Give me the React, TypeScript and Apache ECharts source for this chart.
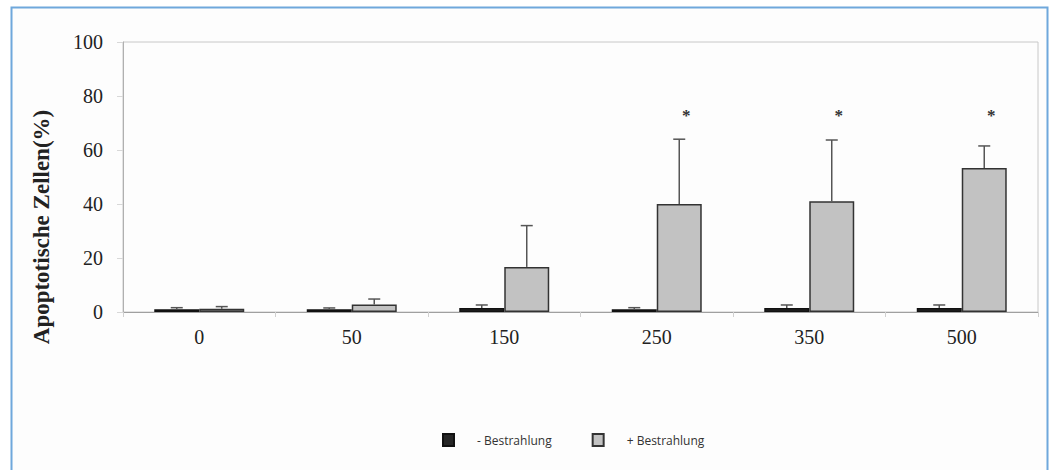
import React, { useEffect, useRef } from "react";
import * as echarts from "echarts";

// Dose groups (x axis)
const doses = ["0", "50", "150", "250", "350", "500"];
// Apoptotic cells (%) without irradiation: mean and upper error
const meanMinus = [1.0, 1.0, 1.5, 1.0, 1.5, 1.5];
const errTopMinus = [1.6, 1.5, 2.6, 1.6, 2.6, 2.6];
// Apoptotic cells (%) with irradiation: mean and upper error
const meanPlus = [1.2, 2.8, 16.7, 40.0, 41.0, 53.3];
const errTopPlus = [2.0, 4.8, 32.0, 64.0, 63.7, 61.5];
// Significant groups (irradiated)
const significant = [false, false, false, true, true, true];

const yTicks = [0, 20, 40, 60, 80, 100];

const SERIF = "'Liberation Serif', 'Times New Roman', serif";
const CAT_GAP = 0.41;
const STAR_LEVEL = 74.5;

export default function App() {
  const ref = useRef<HTMLDivElement>(null);

  useEffect(() => {
    if (!ref.current) return;
    const chart = echarts.init(ref.current, null, { renderer: "svg" });

    const errorSeries = (tops: number[], means: number[], side: number, stars: boolean) => ({
      type: "custom",
      silent: true,
      z: 5,
      itemStyle: { color: "#333" },
      data: tops.map((t, i) => [i, means[i], t, stars && significant[i] ? 1 : 0]),
      renderItem: (params: any, api: any) => {
        const idx = api.value(0);
        const band = api.size([1, 0])[0];
        const barW = (band * (1 - CAT_GAP)) / 2;
        const base = api.coord([idx, api.value(1)]);
        const top = api.coord([idx, api.value(2)]);
        const x = base[0] + (side * barW) / 2;
        const cap = 6;
        const children: any[] = [
          {
            type: "line",
            shape: { x1: x, y1: base[1], x2: x, y2: top[1] },
            style: { stroke: "#555", lineWidth: 1.5 },
          },
          {
            type: "line",
            shape: { x1: x - cap, y1: top[1], x2: x + cap, y2: top[1] },
            style: { stroke: "#555", lineWidth: 1.5 },
          },
        ];
        if (api.value(3) === 1) {
          const s = api.coord([idx, STAR_LEVEL]);
          children.push({
            type: "text",
            style: {
              text: "*",
              x: x + 7,
              y: s[1] + 5,
              fill: "#333",
              font: `bold 17px ${SERIF}`,
              align: "center",
              verticalAlign: "middle",
            },
          });
        }
        return { type: "group", children };
      },
    });

    chart.setOption({
      animation: false,
      backgroundColor: "#ffffff",
      graphic: [
        {
          type: "rect",
          shape: { x: 11.5, y: 7.5, width: 1036, height: 480 },
          style: { fill: "#fdfdfd", stroke: "#6fa8dc", lineWidth: 2 },
          z: -10,
        },
        {
          type: "text",
          x: 41,
          y: 227,
          rotation: Math.PI / 2,
          style: {
            text: "Apoptotische Zellen(%)",
            font: `bold 23px ${SERIF}`,
            fill: "#222",
            align: "center",
            verticalAlign: "middle",
          },
        },
      ],
      grid: {
        left: 123,
        top: 42,
        right: 16,
        bottom: 158,
        show: true,
        borderColor: "#c8c8c8",
        borderWidth: 1,
        backgroundColor: "transparent",
      },
      legend: {
        top: 428,
        left: 437,
        itemWidth: 11,
        itemHeight: 12,
        itemGap: 40,
        icon: "rect",
        textStyle: {
          fontFamily: "'Open Sans', sans-serif",
          fontSize: 12,
          color: "#333",
          padding: [0, 0, 0, 18],
        },
        data: ["- Bestrahlung", "+ Bestrahlung"],
      },
      xAxis: {
        type: "category",
        data: doses,
        axisLine: { lineStyle: { color: "#a0a0a0", width: 1 } },
        axisTick: { show: true, length: 5, lineStyle: { color: "#d0d0d0" } },
        axisLabel: { fontFamily: SERIF, fontSize: 20, color: "#222", margin: 15 },
      },
      yAxis: {
        type: "value",
        min: yTicks[0],
        max: yTicks[yTicks.length - 1],
        interval: 20,
        axisLine: { show: true, lineStyle: { color: "#b0b0b0" } },
        axisTick: { show: true, length: 6, lineStyle: { color: "#d8d8d8" } },
        axisLabel: { fontFamily: SERIF, fontSize: 20, color: "#222", margin: 20 },
        splitLine: { show: false },
      },
      series: [
        {
          name: "- Bestrahlung",
          type: "bar",
          data: meanMinus,
          barGap: "0%",
          barCategoryGap: `${CAT_GAP * 100}%`,
          itemStyle: { color: "#262626", borderColor: "#111", borderWidth: 1.5 },
        },
        {
          name: "+ Bestrahlung",
          type: "bar",
          data: meanPlus,
          barGap: "0%",
          barCategoryGap: `${CAT_GAP * 100}%`,
          itemStyle: { color: "#c2c2c2", borderColor: "#333", borderWidth: 1.5 },
        },
        errorSeries(errTopMinus, meanMinus, -1, false),
        errorSeries(errTopPlus, meanPlus, 1, true),
      ],
    });

    return () => chart.dispose();
  }, []);

  return (
    <div
      ref={ref}
      style={{ position: "fixed", left: 0, top: 0, width: 1054, height: 470 }}
    />
  );
}
